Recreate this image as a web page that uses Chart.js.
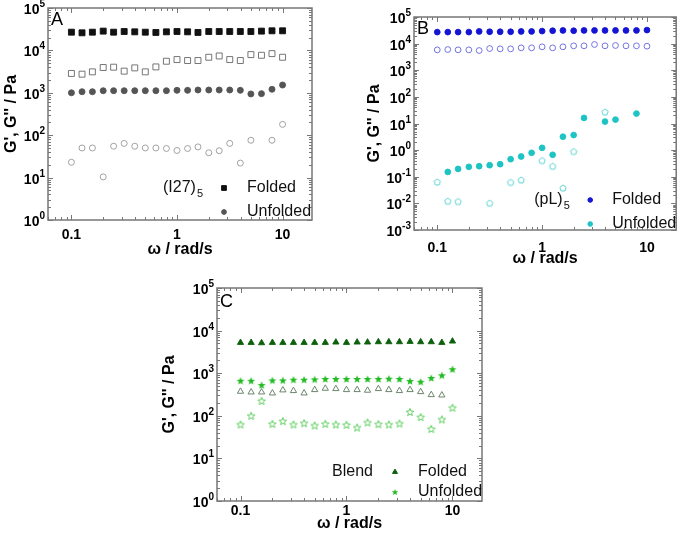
<!DOCTYPE html>
<html>
<head>
<meta charset="utf-8">
<script src="https://cdn.jsdelivr.net/npm/chart.js@4.4.0/dist/chart.umd.min.js"></script>
<style>
html, body { margin: 0; padding: 0; background: #fff; }
#wrap { position: relative; width: 680px; height: 533px; overflow: hidden; background: #fff; }
.panel { position: absolute; }
</style>
</head>
<body>
<div id="wrap">
  <div class="panel" style="left:0;top:0;width:340px;height:262px"><canvas id="chartA"></canvas></div>
  <div class="panel" style="left:340px;top:0;width:340px;height:268px"><canvas id="chartB"></canvas></div>
  <div class="panel" style="left:160px;top:270px;width:340px;height:263px"><canvas id="chartC"></canvas></div>
</div>
<script>
// angular frequency, rad/s (5 points per decade)
const omega = [0.1, 0.126, 0.158, 0.2, 0.251, 0.316, 0.398, 0.501, 0.631, 0.794, 1, 1.26, 1.58, 2, 2.51, 3.16, 3.98, 5.01, 6.31, 7.94, 10];
const xTickValues = [0.1, 1, 10];

// --- A: (I27)5 ---
const aFoldedG1 = [26900, 26000, 26900, 28500, 26900, 27900, 27400, 26900, 26500, 27400, 27900, 27400, 26500, 27900, 27900, 27900, 27900, 27900, 28500, 29000, 29000];
const aFoldedG2 = [2860, 2750, 3120, 3950, 4020, 3240, 3870, 3120, 4080, 5550, 6080, 5770, 5770, 6890, 7390, 6080, 5770, 7960, 7670, 8400, 6890];
const aUnfoldedG1 = [1000, 1060, 1060, 1120, 1120, 1120, 1120, 1120, 1120, 1120, 1145, 1145, 1165, 1165, 1165, 1165, 1145, 940, 955, 1210, 1525];
const aUnfoldedG2 = [23, 50, 50, 10.4, 55, 64, 55, 50, 50, 48.6, 43.6, 48.6, 53, 38.5, 43, 64, 22, 76, null, 76, 180];

// --- B: (pL)5 ---
const bFoldedG1 = [27100, 27100, 27100, 27100, 28700, 27900, 27900, 27900, 28700, 28700, 29600, 30500, 31300, 30500, 31300, 31300, 31300, 31300, 31300, 31300, 32300];
const bFoldedG2 = [5830, 6000, 5830, 5830, 5510, 6540, 6360, 6360, 6940, 6940, 7570, 6940, 7570, 8260, 8260, 9270, 8260, 8500, 8260, 8260, 8020];
const bUnfoldedG1 = [null, 0.152, 0.197, 0.235, 0.249, 0.271, 0.296, 0.457, 0.576, 0.793, 1.22, 0.667, 3.19, 3.69, 16.2, null, 11.8, 14.0, null, 23.6, null];
const bUnfoldedG2 = [0.0637, 0.0122, 0.0118, null, null, 0.0102, null, 0.0618, 0.0757, null, 0.407, 0.249, 0.0378, 0.891, null, null, 27.3, null, null, null, null];

// --- C: Blend ---
const cFoldedG1 = [5230, 5230, 5130, 5230, 5230, 5230, 5230, 5230, 5230, 5330, 5230, 5330, 5330, 5420, 5420, 5420, 5520, 5420, 5420, 5230, 5620];
const cFoldedG2 = [373, 359, 359, 340, 401, 387, 340, 408, 439, 431, 408, 408, 394, 431, 408, 387, 408, 366, 311, 305, null];
const cUnfoldedG1 = [667, 667, 527, 679, 679, 705, 705, 718, 731, 731, 731, 731, 731, 731, 745, 731, 655, 632, 773, 894, 1240];
const cUnfoldedG2 = [62.5, 100, 224, 64.8, 75, 62.5, 67.3, 59.2, 64.8, 62.5, 61.4, 53.1, 69.7, 63.6, 62.5, 66.1, 123, 93.3, 49.3, 82.2, 155];

const FONT = '"Liberation Sans", Arial, sans-serif';

function series(values) {
    return omega.map((w, i) => ({ x: w, y: values[i] })).filter(p => p.y != null);
}

// five-point star marker
function starImage(fill, stroke, size) {
    const c = document.createElement("canvas");
    c.width = 10; c.height = 10;
    const g = c.getContext("2d");
    g.beginPath();
    for (let i = 0; i < 10; i++) {
        const r = i % 2 === 0 ? size : size * 0.42;
        const ang = -Math.PI / 2 + i * Math.PI / 5;
        const px = 5 + r * Math.cos(ang), py = 5.4 + r * Math.sin(ang);
        if (i === 0) g.moveTo(px, py); else g.lineTo(px, py);
    }
    g.closePath();
    if (fill) { g.fillStyle = fill; g.fill(); }
    if (stroke) { g.strokeStyle = stroke; g.lineWidth = 0.9; g.stroke(); }
    return c;
}

// open pentagon marker
function pentagonImage(stroke) {
    const c = document.createElement("canvas");
    c.width = 10; c.height = 10;
    const g = c.getContext("2d");
    g.beginPath();
    for (let i = 0; i < 5; i++) {
        const ang = -Math.PI / 2 + i * 2 * Math.PI / 5;
        const px = 5 + 3.3 * Math.cos(ang), py = 5.3 + 3.3 * Math.sin(ang);
        if (i === 0) g.moveTo(px, py); else g.lineTo(px, py);
    }
    g.closePath();
    g.strokeStyle = stroke; g.lineWidth = 0.9; g.stroke();
    return c;
}

function dataset(values, style, radius, fill, stroke) {
    return {
        data: series(values),
        pointStyle: style,
        pointRadius: radius,
        pointHoverRadius: radius,
        pointBackgroundColor: fill,
        pointBorderColor: stroke,
        pointBorderWidth: 0.9,
        showLine: false
    };
}

// frame, inward ticks, y labels with superscripts, panel letter and legend
function panelDecor(p) {
    return {
        id: "panelDecor",
        afterDraw(chart) {
            const { ctx, chartArea: a, scales: { x, y } } = chart;
            ctx.save();
            ctx.strokeStyle = "#777";
            ctx.lineWidth = 1.5;
            ctx.strokeRect(a.left, a.top, a.right - a.left, a.bottom - a.top);

            ctx.lineWidth = 1;
            ctx.beginPath();
            for (let e = Math.floor(Math.log10(x.min)); e <= Math.ceil(Math.log10(x.max)); e++) {
                for (let m = 1; m < 10; m++) {
                    const v = m * Math.pow(10, e);
                    if (v < x.min || v > x.max) continue;
                    const px = Math.round(x.getPixelForValue(v)) + 0.5;
                    const len = m === 1 ? 5 : 3;
                    ctx.moveTo(px, a.bottom); ctx.lineTo(px, a.bottom - len);
                    ctx.moveTo(px, a.top); ctx.lineTo(px, a.top + len);
                }
            }
            for (let e = Math.round(Math.log10(y.min)); e <= Math.round(Math.log10(y.max)); e++) {
                for (let m = 1; m < 10; m++) {
                    const v = m * Math.pow(10, e);
                    if (v < y.min * 0.999 || v > y.max * 1.001) continue;
                    const py = Math.round(y.getPixelForValue(v)) + 0.5;
                    const len = m === 1 ? 5 : 3;
                    ctx.moveTo(a.left, py); ctx.lineTo(a.left + len, py);
                    ctx.moveTo(a.right, py); ctx.lineTo(a.right - len, py);
                }
            }
            ctx.stroke();

            // y tick labels: 10 with exponent
            ctx.fillStyle = "#000";
            ctx.textAlign = "right";
            ctx.textBaseline = "alphabetic";
            for (let e = Math.round(Math.log10(y.min)); e <= Math.round(Math.log10(y.max)); e++) {
                const py = y.getPixelForValue(Math.pow(10, e));
                const exp = String(e);
                ctx.font = "bold 10px " + FONT;
                const ew = ctx.measureText(exp).width;
                ctx.fillText(exp, a.left - 3, py - 1);
                ctx.font = "bold 14px " + FONT;
                ctx.fillText("10", a.left - 3 - ew, py + 6);
            }

            // panel letter
            ctx.textAlign = "left";
            ctx.textBaseline = "middle";
            ctx.font = "18px " + FONT;
            ctx.fillText(p.letter, a.left + p.letterDx, a.top + p.letterDy);

            // legend
            const rowY = [a.bottom - p.row1, a.bottom - p.row2];
            ctx.font = "16px " + FONT;
            ctx.fillStyle = "#111";
            ctx.fillText(p.sample, a.right - p.sampleDx, rowY[0]);
            if (p.sub) {
                const sw = ctx.measureText(p.sample).width;
                ctx.font = "11px " + FONT;
                ctx.fillText(p.sub, a.right - p.sampleDx + sw + 1, rowY[0] + 6);
                ctx.font = "16px " + FONT;
            }
            ["Folded", "Unfolded"].forEach((label, i) => {
                const ds = chart.data.datasets[i * 2];
                const mark = p.legendMarks ? p.legendMarks[i] : ds.pointStyle;
                ctx.fillStyle = ds.pointBackgroundColor;
                ctx.strokeStyle = ds.pointBorderColor;
                Chart.helpers.drawPoint(ctx, { pointStyle: mark, radius: ds.pointRadius * 0.8, rotation: 0, borderWidth: 1 }, a.right - p.markDx, rowY[i]);
                ctx.fillStyle = "#111";
                ctx.fillText(label, a.right - p.textDx, rowY[i]);
            });
            ctx.restore();
        }
    };
}

function makeScales(o) {
    return {
        x: {
            type: "logarithmic",
            min: 0.06,
            max: 19,
            grid: { display: false, drawTicks: false },
            border: { display: false },
            afterBuildTicks: s => { s.ticks = xTickValues.map(v => ({ value: v })); },
            ticks: {
                color: "#000", autoSkip: false, maxRotation: 0, padding: o.xPad,
                font: { family: FONT, weight: "bold", size: 14 },
                callback: v => String(v)
            },
            title: {
                display: true, text: "ω / rad/s", color: "#000",
                font: { family: FONT, weight: "bold", size: 16 },
                padding: { top: 0, bottom: o.xTitlePad }
            },
            afterFit: s => { s.height = o.xHeight; }
        },
        y: {
            type: "logarithmic",
            min: o.yMin,
            max: o.yMax,
            grid: { display: false, drawTicks: false },
            border: { display: false },
            ticks: { display: false },
            title: {
                display: true, text: "G', G'' / Pa", color: "#000",
                font: { family: FONT, weight: "bold", size: 16 },
                padding: { top: o.yTitlePad, bottom: 0 }
            },
            afterFit: s => { s.width = o.yWidth; }
        }
    };
}

function baseOptions(o) {
    return {
        responsive: true,
        maintainAspectRatio: false,
        animation: false,
        events: [],
        layout: { padding: { top: o.top, right: o.right, left: 0, bottom: 0 } },
        plugins: { legend: { display: false }, tooltip: { enabled: false } },
        scales: makeScales(o)
    };
}

// --- PANEL A ---
new Chart(document.getElementById("chartA"), {
    type: "scatter",
    data: {
        datasets: [
            dataset(aFoldedG1, "rect", 4.2, "#111", "#111"),
            dataset(aFoldedG2, "rect", 4.2, "#fff", "#666"),
            dataset(aUnfoldedG1, "circle", 3, "#555", "#555"),
            dataset(aUnfoldedG2, "circle", 3, "#fff", "#999")
        ]
    },
    options: baseOptions({ top: 8, right: 28, yWidth: 48, xHeight: 42, xPad: 7, xTitlePad: 3, yTitlePad: 2, yMin: 1, yMax: 1e5 }),
    plugins: [panelDecor({ letter: "A", letterDx: 3, letterDy: 12, sample: "(I27)", sub: "5", sampleDx: 149, markDx: 88, textDx: 65, row1: 32, row2: 8 })]
});

// --- PANEL B ---
new Chart(document.getElementById("chartB"), {
    type: "scatter",
    data: {
        datasets: [
            dataset(bFoldedG1, "circle", 2.9, "#1414d4", "#1414d4"),
            dataset(bFoldedG2, "circle", 2.9, "#fff", "#6464e0"),
            dataset(bUnfoldedG1, "circle", 2.9, "#1ec3c3", "#1ec3c3"),
            dataset(bUnfoldedG2, pentagonImage("#4fd0d0"), 2.9, "#fff", "#4fd0d0")
        ]
    },
    options: baseOptions({ top: 17, right: 3, yWidth: 74, xHeight: 38, xPad: 10, xTitlePad: 0, yTitlePad: 25, yMin: 1e-3, yMax: 1e5 }),
    plugins: [panelDecor({ letter: "B", letterDx: 3, letterDy: 12, sample: "(pL)", sub: "5", sampleDx: 142, markDx: 86, textDx: 64, row1: 30, row2: 6 })]
});

// --- PANEL C ---
new Chart(document.getElementById("chartC"), {
    type: "scatter",
    data: {
        datasets: [
            dataset(cFoldedG1, "triangle", 3.6, "#0b600b", "#0b600b"),
            dataset(cFoldedG2, "triangle", 3.6, "#fff", "#5c785c"),
            dataset(cUnfoldedG1, starImage("#22bb22", null, 4.2), 3.6, "#22bb22", "#22bb22"),
            dataset(cUnfoldedG2, starImage(null, "#55cc55", 4), 3.6, "#fff", "#55cc55")
        ]
    },
    options: baseOptions({ top: 18, right: 18, yWidth: 57, xHeight: 32, xPad: 2, xTitlePad: 0, yTitlePad: 0, yMin: 1, yMax: 1e5 }),
    plugins: [panelDecor({ letter: "C", letterDx: 3, letterDy: 14, sample: "Blend", sub: "", sampleDx: 150, markDx: 87, textDx: 64, row1: 29, row2: 9,
        legendMarks: ["triangle", starImage("#22bb22", null, 3.4)] })]
});
</script>
</body>
</html>
